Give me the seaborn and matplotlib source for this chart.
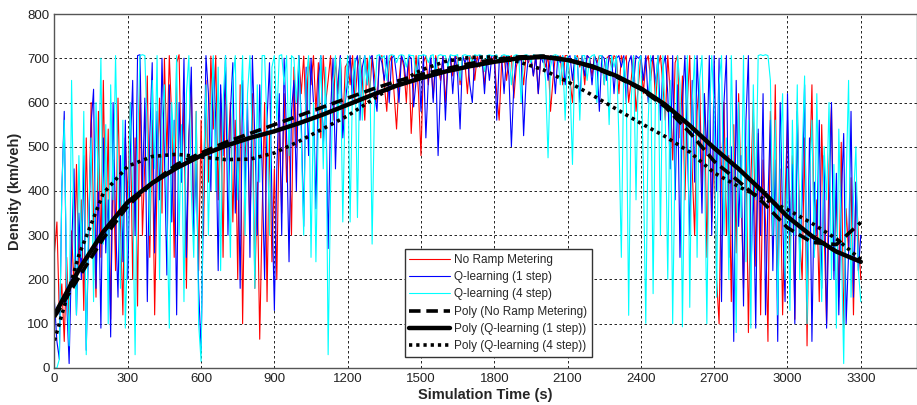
import numpy as np
import pandas as pd
import matplotlib
matplotlib.use("Agg")
import matplotlib.pyplot as plt
import seaborn as sns

# simulation time, one sample every 10 s (0 .. 3300)
time_s = list(range(0, 3301, 10))

no_ramp = [
    260, 330, 120, 190, 60, 250, 90, 310, 180, 460, 220, 380, 130, 520, 270, 600, 340, 160, 580, 250, 650, 300, 540, 110, 470, 220, 610, 330, 120, 520,
    380, 600, 200, 520, 140, 650, 300, 470, 660, 250, 560, 120, 430, 610, 350, 700, 480, 706, 560, 250, 690, 708, 420, 600, 180, 520, 640, 300, 580, 220,
    560, 300, 650, 420, 705, 540, 706, 380, 620, 250, 680, 470, 600, 330, 560, 200, 640, 100, 480, 560, 300, 620, 180, 420, 65, 350, 600, 150, 530, 240,
    450, 200, 560, 350, 620, 420, 540, 300, 680, 500, 706, 620, 705, 560, 700, 640, 706, 580, 690, 520, 706, 600, 650, 706, 560, 700, 620, 706, 540, 680,
    690, 640, 706, 600, 680, 706, 650, 560, 700, 620, 706, 660, 600, 700, 706, 640, 580, 690, 706, 620, 540, 650, 706, 680, 600, 706, 530, 640, 706, 620,
    480, 690, 706, 640, 700, 610, 706, 680, 650, 706, 600, 690, 706, 660, 706, 700, 640, 706, 690, 620, 706, 700, 650, 706, 680, 706, 640, 700, 706, 690,
    706, 620, 560, 690, 706, 650, 700, 706, 610, 680, 706, 700, 640, 706, 690, 706, 660, 706, 620, 700, 706, 680, 706, 580, 650, 706, 690, 706, 640, 706,
    706, 650, 600, 700, 706, 680, 706, 640, 706, 700, 660, 706, 690, 706, 706, 640, 700, 706, 680, 706, 700, 620, 706, 690, 706, 600, 650, 706, 580, 640,
    706, 620, 690, 706, 650, 706, 600, 680, 706, 640, 560, 706, 620, 470, 690, 706, 520, 660, 380, 600, 706, 450, 300, 580, 650, 400, 620, 250, 560, 330,
    500, 200, 100, 450, 600, 300, 480, 150, 550, 260, 620, 400, 180, 500, 80, 420, 600, 230, 530, 120, 470, 330, 60, 580, 280, 640, 190, 450, 120, 380,
    560, 240, 480, 110, 600, 300, 200, 520, 50, 430, 640, 260, 380, 150, 550, 310, 100, 460, 590, 220, 400, 160, 510, 90, 360, 260, 430, 120, 420, 300,
    200,
]

q_one_step = [
    150, 60, 20, 400, 580, 150, 10, 260, 450, 120, 350, 200, 480, 40, 300, 550, 630, 180, 420, 90, 520, 260, 380, 70, 600, 330, 160, 480, 240, 560,
    200, 480, 650, 300, 706, 708, 400, 610, 150, 520, 690, 260, 580, 380, 700, 480, 210, 640, 330, 560, 120, 600, 420, 700, 250, 520, 680, 300, 460, 180,
    40, 380, 706, 620, 400, 700, 560, 220, 640, 480, 706, 300, 580, 690, 350, 520, 180, 650, 400, 600, 250, 706, 520, 300, 640, 450, 200, 560, 690, 380,
    130, 450, 620, 300, 700, 520, 240, 580, 650, 400, 706, 560, 320, 680, 480, 700, 600, 360, 650, 706, 500, 620, 270, 580, 700, 450, 640, 706, 520, 600,
    650, 706, 600, 690, 706, 560, 680, 706, 640, 700, 706, 620, 580, 706, 690, 650, 706, 600, 700, 706, 660, 600, 706, 690, 640, 706, 700, 590, 650, 706,
    580, 706, 520, 650, 706, 600, 700, 480, 640, 706, 560, 690, 706, 620, 706, 660, 540, 706, 690, 706, 640, 600, 706, 680, 706, 700, 620, 706, 650, 706,
    706, 560, 690, 706, 620, 706, 660, 500, 640, 706, 690, 706, 525, 650, 706, 700, 660, 706, 620, 706, 690, 706, 650, 706, 700, 620, 706, 690, 706, 640,
    700, 706, 650, 706, 690, 600, 706, 660, 706, 700, 640, 706, 690, 580, 706, 700, 650, 706, 706, 620, 700, 706, 680, 706, 600, 690, 706, 640, 706, 700,
    706, 650, 706, 600, 690, 706, 640, 706, 560, 680, 706, 620, 450, 706, 380, 640, 250, 600, 706, 500, 300, 650, 420, 706, 560, 350, 620, 480, 706, 300,
    706, 400, 700, 150, 600, 706, 250, 500, 60, 650, 320, 480, 140, 560, 706, 200, 420, 90, 540, 300, 620, 120, 380, 560, 220, 470, 60, 600, 340, 150,
    620, 300, 460, 100, 580, 240, 380, 640, 150, 520, 60, 420, 300, 560, 180, 480, 90, 350, 600, 200, 440, 120, 380, 530, 100, 260, 580, 160, 420, 220,
    300,
]

q_four_step = [
    0, 0, 20, 400, 560, 200, 50, 650, 300, 120, 480, 250, 580, 30, 350, 520, 150, 600, 400, 700, 280, 550, 100, 640, 380, 706, 420, 180, 560, 90,
    300, 600, 400, 30, 500, 706, 708, 706, 520, 300, 650, 450, 706, 200, 560, 640, 350, 90, 600, 480, 706, 300, 550, 150, 620, 706, 400, 250, 580, 100,
    15, 450, 640, 300, 560, 706, 400, 680, 220, 600, 706, 500, 250, 650, 706, 380, 560, 706, 300, 620, 706, 500, 180, 640, 420, 706, 706, 550, 300, 680,
    706, 560, 706, 708, 640, 706, 480, 706, 700, 600, 706, 520, 300, 650, 706, 250, 600, 240, 560, 706, 450, 680, 30, 400, 640, 706, 560, 700, 330, 620,
    706, 330, 650, 700, 340, 706, 560, 706, 640, 706, 280, 600, 706, 708, 700, 706, 650, 706, 708, 706, 690, 706, 708, 706, 680, 708, 706, 706, 660, 706,
    706, 708, 706, 690, 706, 708, 660, 706, 708, 706, 706, 680, 708, 706, 706, 708, 650, 706, 708, 706, 706, 690, 708, 706, 708, 706, 670, 706, 708, 706,
    706, 708, 690, 706, 708, 706, 706, 640, 706, 708, 706, 600, 706, 708, 706, 690, 708, 706, 706, 708, 706, 650, 475, 680, 706, 708, 706, 640, 706, 560,
    706, 640, 460, 706, 700, 560, 706, 706, 650, 700, 706, 708, 600, 706, 706, 640, 700, 550, 706, 680, 706, 520, 250, 700, 640, 119, 600, 706, 380, 690,
    706, 450, 101, 560, 706, 168, 640, 706, 300, 706, 560, 200, 650, 100, 480, 706, 640, 93, 500, 706, 137, 600, 706, 250, 650, 706, 480, 100, 560, 706,
    580, 160, 640, 706, 300, 520, 200, 706, 450, 80, 600, 340, 706, 240, 560, 90, 640, 380, 706, 708, 706, 708, 706, 650, 300, 560, 120, 480, 620, 200,
    450, 130, 560, 300, 640, 200, 480, 660, 100, 420, 560, 250, 620, 330, 150, 500, 380, 600, 200, 460, 90, 540, 300, 10, 420, 650, 160, 380, 500, 220,
    150,
]

# polynomial trend curves read at every 100 s
poly_time = list(range(0, 3301, 100))
poly_no_ramp = [115, 205, 293, 366, 418, 460, 486, 510, 530, 550, 570, 590,
                610, 630, 648, 663, 676, 688, 697, 703, 705, 697, 680, 658,
                630, 590, 532, 467, 422, 374, 317, 284, 279, 329]
poly_one_step = [120, 222, 308, 375, 418, 452, 480, 502, 520, 535, 553, 573,
                 595, 617, 638, 655, 670, 682, 692, 700, 703, 696, 682, 660,
                 632, 595, 548, 497, 450, 398, 342, 298, 263, 240]
poly_four_step = [62, 255, 395, 456, 478, 483, 477, 471, 472, 486, 512, 541,
                  570, 606, 642, 673, 693, 702, 703, 692, 674, 647, 617, 585,
                  553, 523, 488, 441, 410, 383, 358, 327, 292, 245]

sns.set_style("white")
plt.rcParams["font.family"] = ["Liberation Sans", "DejaVu Sans"]

raw = pd.DataFrame({"time": time_s, "no_ramp": no_ramp,
                    "q1": q_one_step, "q4": q_four_step})
poly = pd.DataFrame({"time": poly_time, "no_ramp": poly_no_ramp,
                     "q1": poly_one_step, "q4": poly_four_step})

fig = plt.figure(figsize=(9.17, 4.05), dpi=100)
ax = fig.add_axes([0.0594, 0.0914, 0.9406, 0.874])

sns.lineplot(data=raw, x="time", y="no_ramp", color="#ff0000", lw=0.8,
             estimator=None, sort=False, label="No Ramp Metering", ax=ax)
sns.lineplot(data=raw, x="time", y="q1", color="#0000ff", lw=0.8,
             estimator=None, sort=False, label="Q-learning (1 step)", ax=ax)
sns.lineplot(data=raw, x="time", y="q4", color="#00ffff", lw=0.8,
             estimator=None, sort=False, label="Q-learning (4 step)", ax=ax)

sns.lineplot(data=poly, x="time", y="no_ramp", color="black", lw=2.6,
             estimator=None, sort=False,
             label="Poly (No Ramp Metering)", ax=ax)
ax.lines[-1].set_dashes([3.2, 1.6])
sns.lineplot(data=poly, x="time", y="q1", color="black", lw=3.2,
             estimator=None, sort=False,
             label="Poly (Q-learning (1 step))", ax=ax)
sns.lineplot(data=poly, x="time", y="q4", color="black", lw=2.6,
             estimator=None, sort=False,
             label="Poly (Q-learning (4 step))", ax=ax)
ax.lines[-1].set_dashes([0.9, 1.1])

ax.set_xlim(0, 3530)
ax.set_ylim(0, 800)
ax.set_xticks(range(0, 3301, 300))
ax.set_yticks(range(0, 801, 100))
ax.tick_params(direction="in", length=4, labelsize=9.5, colors="#222222")
ax.grid(True, color="black", linestyle=(0, (3, 3)), linewidth=0.6)
for s in ax.spines.values():
    s.set_color("#555555")
    s.set_linewidth(1.0)

ax.set_xlabel("Simulation Time (s)", fontsize=10.5, fontweight="bold", labelpad=2)
ax.set_ylabel("Density (km/veh)", fontsize=10.5, fontweight="bold", labelpad=4)

leg = ax.legend(loc="lower left", bbox_to_anchor=(0.406, 0.031),
                borderaxespad=0, fontsize=8.5, handlelength=3.4,
                labelspacing=0.45, handletextpad=0.4, borderpad=0.4,
                fancybox=False, framealpha=1, edgecolor="#333333")
leg.get_frame().set_linewidth(1.0)

plt.savefig("out.png", dpi=100)
plt.close()
